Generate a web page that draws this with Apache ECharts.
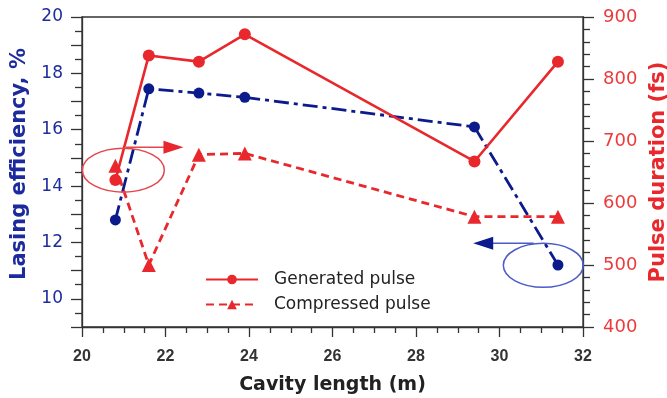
<!DOCTYPE html>
<html>
<head>
<meta charset="utf-8">
<script src="https://cdn.jsdelivr.net/npm/echarts@6/dist/echarts.min.js"></script>
<style>
  html, body { margin: 0; padding: 0; background: #fff; }
  #chart { width: 667px; height: 398px; }
</style>
</head>
<body>
<div id="chart"></div>
<script>
// Cavity length (m) for each measured configuration
const cavityLength = [20.8, 21.6, 22.8, 23.9, 29.4, 31.4];
// Lasing efficiency (%) — left axis
const lasingEfficiency = [12.8, 17.45, 17.3, 17.15, 16.1, 11.2];
// Pulse durations (fs) — right axis
const generatedPulse = [637, 838, 828, 872, 667, 828];
const compressedPulse = [660, 500, 678, 680, 578, 578];

const seriesNames = ['Generated pulse', 'Compressed pulse', 'Lasing efficiency'];

// Axis ranges
const xRange = [20, 32];
const effRange = [9, 20];
const pulseRange = [400, 900];

const RED = '#e8282c';
const NAVY = '#0c1b8c';
const FONT = 'DejaVu Sans';

const pairs = (xs, ys) => xs.map((x, i) => [x, ys[i]]);

const chart = echarts.init(document.getElementById('chart'), null, { renderer: 'canvas' });

chart.setOption({
  animation: false,
  backgroundColor: '#fff',
  grid: {
    left: 82, right: 84, top: 17, bottom: 71,
    containLabel: false,
    outerBoundsMode: 'none',
    show: true, borderColor: '#333', borderWidth: 1.3
  },
  legend: {
    orient: 'vertical',
    left: 200, top: 266,
    itemWidth: 52, itemHeight: 12, itemGap: 8,
    data: [seriesNames[0], seriesNames[1]],
    textStyle: { fontFamily: FONT, fontSize: 17, color: '#222', padding: [0, 0, 0, 11] }
  },
  xAxis: {
    type: 'value',
    min: xRange[0], max: xRange[1], interval: 2,
    name: 'Cavity length (m)',
    nameLocation: 'middle', nameGap: 49,
    nameTextStyle: { fontFamily: FONT, fontWeight: 'bold', fontSize: 19, color: '#222' },
    axisLine: { lineStyle: { color: '#333', width: 1.3 } },
    axisTick: { show: true, length: 10, lineStyle: { color: '#333', width: 1.3 } },
    minorTick: { show: true, splitNumber: 4, length: 6, lineStyle: { color: '#333', width: 1.3 } },
    splitLine: { show: false },
    axisLabel: { margin: 22, fontFamily: 'Liberation Sans', fontWeight: 'bold', fontSize: 16, color: '#333' }
  },
  yAxis: [
    {
      type: 'value', position: 'left',
      min: effRange[0], max: effRange[1], interval: 1,
      name: 'Lasing efficiency, %',
      nameLocation: 'middle', nameGap: 49,
      nameTextStyle: { fontFamily: FONT, fontWeight: 'bold', fontSize: 21, color: '#1c2a9e', padding: [0, 0, 0, 16] },
      axisLine: { show: true, lineStyle: { color: '#333', width: 1.3 } },
      axisTick: { show: true, length: 11, lineStyle: { color: '#333', width: 1.3 } },
      minorTick: { show: true, splitNumber: 2, length: 7, lineStyle: { color: '#333', width: 1.3 } },
      splitLine: { show: false },
      axisLabel: {
        margin: 19, fontFamily: FONT, fontSize: 17, color: '#1f2c9c',
        formatter: v => (v % 2 === 0 ? String(v) : '')
      }
    },
    {
      type: 'value', position: 'right',
      min: pulseRange[0], max: pulseRange[1], interval: 100,
      name: 'Pulse duration (fs)',
      nameLocation: 'middle', nameGap: 59, nameRotate: 90,
      nameTextStyle: { fontFamily: FONT, fontWeight: 'bold', fontSize: 21, color: RED },
      axisLine: { show: true, lineStyle: { color: '#333', width: 1.3 } },
      axisTick: { show: true, length: 11, lineStyle: { color: '#333', width: 1.3 } },
      minorTick: { show: true, splitNumber: 5, length: 7, lineStyle: { color: '#333', width: 1.3 } },
      splitLine: { show: false },
      axisLabel: { margin: 20, fontFamily: FONT, fontSize: 18, color: '#ec3b3d' }
    }
  ],
  series: [
    {
      name: seriesNames[0], type: 'line', yAxisIndex: 1,
      data: pairs(cavityLength, generatedPulse),
      symbol: 'circle', symbolSize: 12,
      itemStyle: { color: RED },
      lineStyle: { color: RED, width: 2.6, type: 'solid' },
      z: 3
    },
    {
      name: seriesNames[1], type: 'line', yAxisIndex: 1,
      data: pairs(cavityLength, compressedPulse),
      symbol: 'triangle', symbolSize: 14,
      itemStyle: { color: RED },
      lineStyle: { color: RED, width: 2.8, type: [8, 5] },
      z: 3
    },
    {
      name: seriesNames[2], type: 'line', yAxisIndex: 0,
      data: pairs(cavityLength, lasingEfficiency),
      symbol: 'circle', symbolSize: 11,
      itemStyle: { color: NAVY },
      lineStyle: { color: NAVY, width: 2.8, type: [15, 5, 4, 5] },
      z: 2
    }
  ]
});

// Callouts: an ellipse around the leftmost points with an arrow toward the
// axis the series belongs to. Anchors are given in data coordinates.
const callouts = [
  { yAxisIndex: 1, center: [20.99, 653], rx: 41, ry: 22, ring: '#e4474b',
    arrowFrom: [21.05, 690], arrowTo: [22.43, 690], head: RED },
  { yAxisIndex: 0, center: [31.05, 11.19], rx: 40, ry: 22, ring: '#4b5bc9',
    arrowFrom: [30.82, 11.97], arrowTo: [29.37, 11.97], head: NAVY }
];

function arrowHead(tip, dir, len, half, color) {
  const base = tip[0] - dir * len;
  return {
    type: 'polygon',
    shape: { points: [tip, [base, tip[1] - half], [base, tip[1] + half]] },
    style: { fill: color },
    z: 10
  };
}

const elements = [];
callouts.forEach(c => {
  const finder = { xAxisIndex: 0, yAxisIndex: c.yAxisIndex };
  const ctr = chart.convertToPixel(finder, c.center);
  const from = chart.convertToPixel(finder, c.arrowFrom);
  const to = chart.convertToPixel(finder, c.arrowTo);
  const dir = Math.sign(to[0] - from[0]);
  elements.push({
    type: 'ellipse',
    shape: { cx: ctr[0], cy: ctr[1], rx: c.rx, ry: c.ry },
    style: { fill: 'none', stroke: c.ring, lineWidth: 1.5 },
    z: 10
  });
  elements.push({
    type: 'line',
    shape: { x1: from[0], y1: from[1], x2: to[0] - dir * 16, y2: to[1] },
    style: { stroke: c.ring, lineWidth: 1.6 },
    z: 10
  });
  elements.push(arrowHead(to, dir, 20, 6.5, c.head));
});
chart.setOption({ graphic: { elements } });
</script>
</body>
</html>
